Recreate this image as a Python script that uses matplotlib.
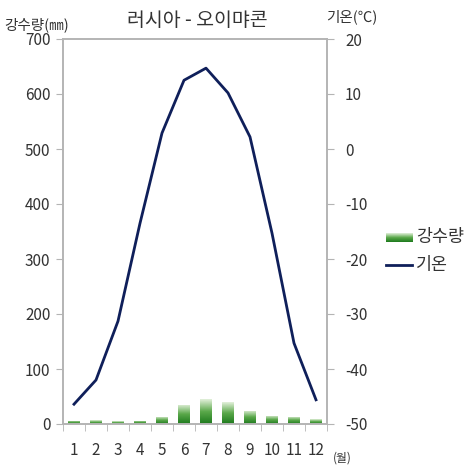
import numpy as np
import matplotlib
matplotlib.use('Agg')
import matplotlib.pyplot as plt
from matplotlib.colors import LinearSegmentedColormap
from matplotlib.lines import Line2D

plt.rcParams['font.family'] = ['Noto Sans CJK KR', 'DejaVu Sans']
plt.rcParams['axes.unicode_minus'] = False

###############################
# data
###############################
months = ['1', '2', '3', '4', '5', '6', '7', '8', '9', '10', '11', '12']
precip = [6, 7, 5, 6, 13, 35, 45, 40, 24, 15, 13, 9]
temp = [-46.4, -42.0, -31.3, -13.5, 2.9, 12.5, 14.7, 10.2, 2.2, -15.3, -35.3, -45.6]

###############################
# plot
###############################
grey = '#b4b4b4'
txt = '#333333'
navy = '#0f1f5a'
greens = LinearSegmentedColormap.from_list('g', ['#1d7a1d', '#5aa84a', '#e2f0da'])
grad = np.linspace(0, 1, 100).reshape(-1, 1)

fig = plt.figure(figsize=(4.74, 4.67), dpi=100)
ax1 = fig.add_axes([63/474, 1-424/467, 264/474, 385/467])
ax2 = ax1.twinx()

x = np.arange(len(months))
bars = ax1.bar(x, precip, width=0.53, color='none', edgecolor='none', zorder=2)
for b in bars:
    bx, by = b.get_x(), b.get_y()
    im = ax1.imshow(grad, cmap=greens, aspect='auto', origin='lower',
                    extent=[bx, bx + b.get_width(), by, by + b.get_height()], zorder=2)
    im.set_clip_path(b)

ax1.set_xlim(-0.5, 11.5)
ax1.set_ylim(0, 700)
ax1.set_yticks(range(0, 701, 100))
ax1.set_xticks(x)
ax1.set_xticklabels(months)
ax1.set_xticks(np.arange(-0.5, 12, 1), minor=True)
ax1.tick_params(axis='x', which='major', length=0, pad=13, labelsize=11, labelcolor=txt)
ax1.tick_params(axis='x', which='minor', length=5, direction='out', color=grey)
ax1.tick_params(axis='y', length=5, color=grey, labelsize=11, labelcolor=txt, pad=4)

ax2.plot(x, temp, color=navy, lw=2, zorder=3)
ax2.set_ylim(-50, 20)
ax2.set_yticks(range(-50, 21, 10))
ax2.tick_params(axis='y', length=5, color=grey, labelsize=11, labelcolor=txt, pad=8)

for a in (ax1, ax2):
    for s in a.spines.values():
        s.set_color(grey)
        s.set_linewidth(1.2)

fig.text(197/474, 1-21/467, '러시아 - 오이먀콘', ha='center', va='center', fontsize=14, color=txt)
fig.text(4/474, 1-25/467, '강수량(㎜)', ha='left', va='center', fontsize=10.5, color=txt)
fig.text(352/474, 1-17/467, '기온(℃)', ha='center', va='center', fontsize=10.5, color=txt)
fig.text(333/474, 1-458/467, '(월)', ha='left', va='center', fontsize=8.5, color=txt)

# legend, drawn by hand so the patch can carry the gradient
lax = fig.add_axes([386/474, 1-242/467, 27/474, 9/467])
lax.imshow(grad, cmap=greens, aspect='auto', origin='lower', extent=[0, 1, 0, 1])
lax.set_axis_off()
fig.add_artist(Line2D([386/474, 412/474], [1-265/467, 1-265/467], color=navy, lw=2))
fig.text(416/474, 1-237/467, '강수량', ha='left', va='center', fontsize=12.5, color=txt)
fig.text(416/474, 1-265/467, '기온', ha='left', va='center', fontsize=12.5, color=txt)

plt.savefig('out.png', dpi=100)
